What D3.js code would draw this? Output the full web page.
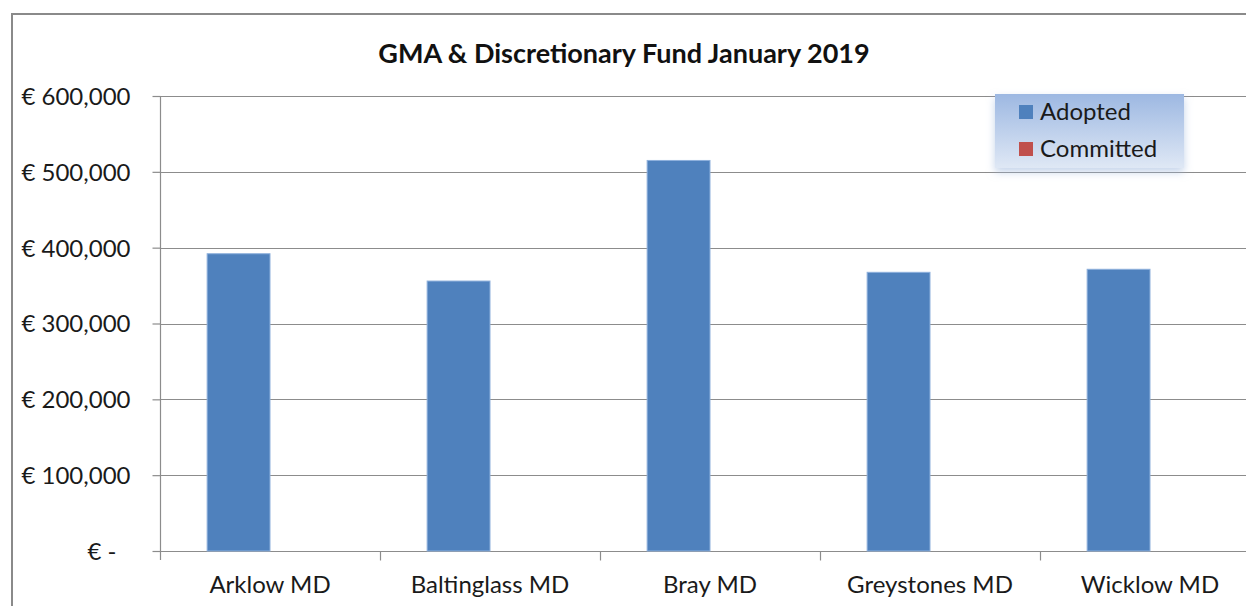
<!DOCTYPE html>
<html>
<head>
<meta charset="utf-8">
<script src="https://cdn.jsdelivr.net/npm/d3@7"></script>
<style>
  body { margin: 0; background: #fff; }
  svg, svg text { font-family: Lato, "Open Sans", sans-serif; }
</style>
</head>
<body>
<div id="chart"></div>
<script>
const title = 'GMA & Discretionary Fund January 2019'
const districts = ['Arklow MD', 'Baltinglass MD', 'Bray MD', 'Greystones MD', 'Wicklow MD']
const seriesNames = ['Adopted', 'Committed']
const adopted = [392000, 356000, 515000, 367500, 371500]
const committed = [0, 0, 0, 0, 0]
const yTicks = [0, 100000, 200000, 300000, 400000, 500000, 600000]
const colors = ['#4f81bd', '#c0504d']

const width = 1246, height = 606
const svg = d3.select('#chart').append('svg')
  .attr('width', width)
  .attr('height', height)
  .style('display', 'block')

const defs = svg.append('defs')
const grad = defs.append('linearGradient')
  .attr('id', 'legendFill')
  .attr('x1', 0).attr('y1', 0).attr('x2', 0).attr('y2', 1)
grad.append('stop').attr('offset', '0%').attr('stop-color', '#9db8e2')
grad.append('stop').attr('offset', '100%').attr('stop-color', '#dfe8f5')
const shadow = defs.append('filter').attr('id', 'legendShadow')
  .attr('x', '-10%').attr('y', '-10%').attr('width', '120%').attr('height', '140%')
shadow.append('feDropShadow')
  .attr('dx', 0).attr('dy', 4).attr('stdDeviation', 4)
  .attr('flood-color', '#9fb8dd').attr('flood-opacity', 0.6)

// chart border (runs off the right and bottom of the picture)
svg.append('rect')
  .attr('x', 12).attr('y', 14)
  .attr('width', 1300).attr('height', 700)
  .attr('fill', 'none')
  .attr('stroke', '#8a8a8a')
  .attr('stroke-width', 2)

const plot = { left: 160, right: 1260, top: 96, bottom: 551 }

const y = d3.scaleLinear()
  .domain([0, 600000])
  .range([plot.bottom, plot.top])

const x = d3.scaleBand()
  .domain(districts)
  .range([plot.left, plot.right])
  .padding(0)

const xSub = d3.scaleBand()
  .domain(seriesNames)
  .range([0, x.bandwidth()])
  .paddingInner(0)
  .paddingOuter(0.75)

// gridlines
svg.append('g')
  .selectAll('line')
  .data(yTicks)
  .join('line')
  .attr('x1', plot.left)
  .attr('x2', width)
  .attr('y1', d => Math.round(y(d)) + 0.5)
  .attr('y2', d => Math.round(y(d)) + 0.5)
  .attr('stroke', '#8c8c8c')
  .attr('stroke-width', 1.2)

// bars
const rows = districts.map((d, i) => ({ district: d, values: [adopted[i], committed[i]] }))
const groups = svg.append('g')
  .selectAll('g')
  .data(rows)
  .join('g')
  .attr('transform', d => `translate(${x(d.district)},0)`)

groups.selectAll('rect')
  .data(d => d.values.map((v, j) => ({ key: seriesNames[j], value: v, color: colors[j] })))
  .join('rect')
  .attr('x', d => xSub(d.key))
  .attr('y', d => y(d.value))
  .attr('width', xSub.bandwidth())
  .attr('height', d => y(0) - y(d.value))
  .attr('fill', d => d.color)
  .attr('stroke', d => d.value > 0 ? '#8eb0dc' : 'none')
  .attr('stroke-width', 1)

// y axis
const yAxis = d3.axisLeft(y)
  .tickValues(yTicks)
  .tickSize(8)
  .tickPadding(22)
  .tickFormat(d => d === 0 ? '€ -' : '€ ' + d3.format(',')(d))

const yG = svg.append('g')
  .attr('transform', `translate(${plot.left + 0.5},0)`)
  .call(yAxis)
  .attr('font-family', null)
yG.select('.domain').attr('stroke', '#8c8c8c').attr('stroke-width', 1.2)
  .attr('d', `M0,${plot.top}V${plot.bottom + 9}`)
yG.selectAll('.tick line').attr('stroke', '#8c8c8c').attr('stroke-width', 1.2)
yG.selectAll('.tick text')
  .attr('fill', '#1a1a1a')
  .style('font-size', '24px')
  .attr('dy', '0.35em')
  .filter(d => d === 0)
  .attr('dx', -14)

// x axis
const xAxis = d3.axisBottom(x)
  .tickSize(0)
  .tickPadding(24)

const xG = svg.append('g')
  .attr('transform', `translate(0,${plot.bottom + 0.5})`)
  .call(xAxis)
  .attr('font-family', null)
xG.select('.domain').remove()
xG.selectAll('.tick text')
  .attr('fill', '#1a1a1a')
  .style('font-size', '24px')

// category separators
xG.append('g')
  .selectAll('line')
  .data(districts.slice(1).map(d => x(d)).concat([plot.right]))
  .join('line')
  .attr('x1', d => d + 0.5)
  .attr('x2', d => d + 0.5)
  .attr('y1', 0)
  .attr('y2', 9)
  .attr('stroke', '#8c8c8c')
  .attr('stroke-width', 1.2)

// title
svg.append('text')
  .attr('x', 624)
  .attr('y', 63)
  .attr('text-anchor', 'middle')
  .attr('fill', '#111')
  .style('font-size', '27px')
  .style('font-weight', 'bold')
  .text(title)

// legend
const legend = svg.append('g')
  .attr('transform', 'translate(995,94)')
legend.append('rect')
  .attr('width', 189)
  .attr('height', 74)
  .attr('fill', 'url(#legendFill)')
  .attr('filter', 'url(#legendShadow)')

const items = legend.selectAll('g.item')
  .data(seriesNames)
  .join('g')
  .attr('class', 'item')
  .attr('transform', (d, i) => `translate(24,${18 + i * 37})`)
items.append('rect')
  .attr('x', 0)
  .attr('y', -7)
  .attr('width', 14)
  .attr('height', 14)
  .attr('fill', (d, i) => colors[i])
items.append('text')
  .attr('x', 21)
  .attr('dy', '0.35em')
  .attr('fill', '#1a1a1a')
  .style('font-size', '24px')
  .text(d => d)
</script>
</body>
</html>
